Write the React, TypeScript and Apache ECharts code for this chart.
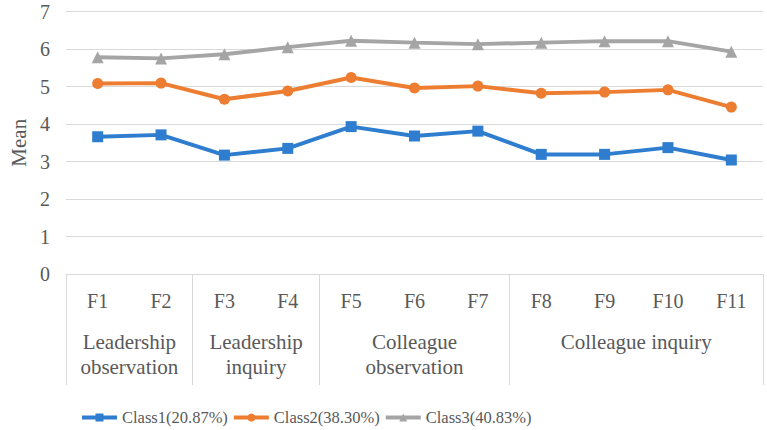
import React, { useEffect, useRef } from "react";
import * as echarts from "echarts";

const factors = ["F1", "F2", "F3", "F4", "F5", "F6", "F7", "F8", "F9", "F10", "F11"];
const class1 = [3.66, 3.71, 3.17, 3.35, 3.93, 3.68, 3.81, 3.19, 3.19, 3.37, 3.04];
const class2 = [5.08, 5.09, 4.66, 4.88, 5.24, 4.96, 5.01, 4.82, 4.85, 4.91, 4.45];
const class3 = [5.78, 5.75, 5.86, 6.05, 6.22, 6.17, 6.13, 6.17, 6.21, 6.21, 5.93];

// Factor groups: label, and the boundaries (in category units) each group spans
const groupNames = ["Leadership\nobservation", "Leadership\ninquiry", "Colleague\nobservation", "Colleague inquiry"];
const groupBounds = [0, 2, 4, 7, 11];

const seriesNames = ["Class1(20.87%)", "Class2(38.30%)", "Class3(40.83%)"];
const seriesColors = ["#2E7DCF", "#ED7D31", "#A5A5A5"];
const seriesSymbols = ["rect", "circle", "triangle"];

const textColor = "#595959";
const lineGray = "#D9D9D9";
const serif = "Liberation Serif";

export default function App() {
  const ref = useRef<HTMLDivElement>(null);

  useEffect(() => {
    document.body.style.margin = "0";
    if (!ref.current) return;
    const chart = echarts.init(ref.current, null, { renderer: "svg" });

    const groupCenters = groupNames.map((_, i) => (groupBounds[i] + groupBounds[i + 1]) / 2);
    const values = [class1, class2, class3];

    chart.setOption({
      animation: false,
      textStyle: { fontFamily: serif },
      grid: { left: 58, right: 4, top: 11.5, bottom: 156 },
      legend: {
        left: 75,
        top: 404,
        itemWidth: 35,
        itemHeight: 10,
        itemGap: 4,
        lineStyle: { width: 4 },
        textStyle: { fontSize: 16.5, color: textColor, fontFamily: serif },
        data: seriesNames,
      },
      xAxis: [
        {
          type: "category",
          data: factors,
          boundaryGap: true,
          axisLine: { show: true, lineStyle: { color: lineGray, width: 1 } },
          axisTick: { show: false },
          axisLabel: { color: textColor, fontSize: 20, margin: 17, fontFamily: serif },
        },
        {
          type: "value",
          min: 0,
          max: factors.length,
          position: "bottom",
          splitLine: { show: false },
          axisLine: { show: false },
          axisTick: {
            show: true,
            length: 111,
            customValues: groupBounds,
            lineStyle: { color: lineGray, width: 1 },
          },
          axisLabel: {
            customValues: groupCenters,
            color: textColor,
            fontSize: 21,
            lineHeight: 25,
            margin: 55,
            fontFamily: serif,
            formatter: (v: number) => {
              const idx = groupCenters.findIndex((c) => Math.abs(c - v) < 1e-6);
              return idx >= 0 ? groupNames[idx] : "";
            },
          },
        },
      ],
      yAxis: {
        type: "value",
        min: 0,
        max: 7,
        interval: 1,
        name: "Mean",
        nameLocation: "middle",
        nameGap: 37,
        nameTextStyle: { color: textColor, fontSize: 21, fontFamily: serif },
        axisLine: { show: false },
        axisTick: { show: false },
        axisLabel: { color: textColor, fontSize: 20, margin: 16, fontFamily: serif },
        splitLine: { lineStyle: { color: lineGray, width: 1 } },
      },
      series: seriesNames.map((name, i) => ({
        name,
        type: "line",
        xAxisIndex: 0,
        data: values[i],
        symbol: seriesSymbols[i],
        symbolSize: i === 2 ? 12 : 11,
        showAllSymbol: true,
        itemStyle: { color: seriesColors[i] },
        lineStyle: { color: seriesColors[i], width: 4 },
      })),
    });

    return () => chart.dispose();
  }, []);

  return <div ref={ref} style={{ width: 767, height: 430 }} />;
}
